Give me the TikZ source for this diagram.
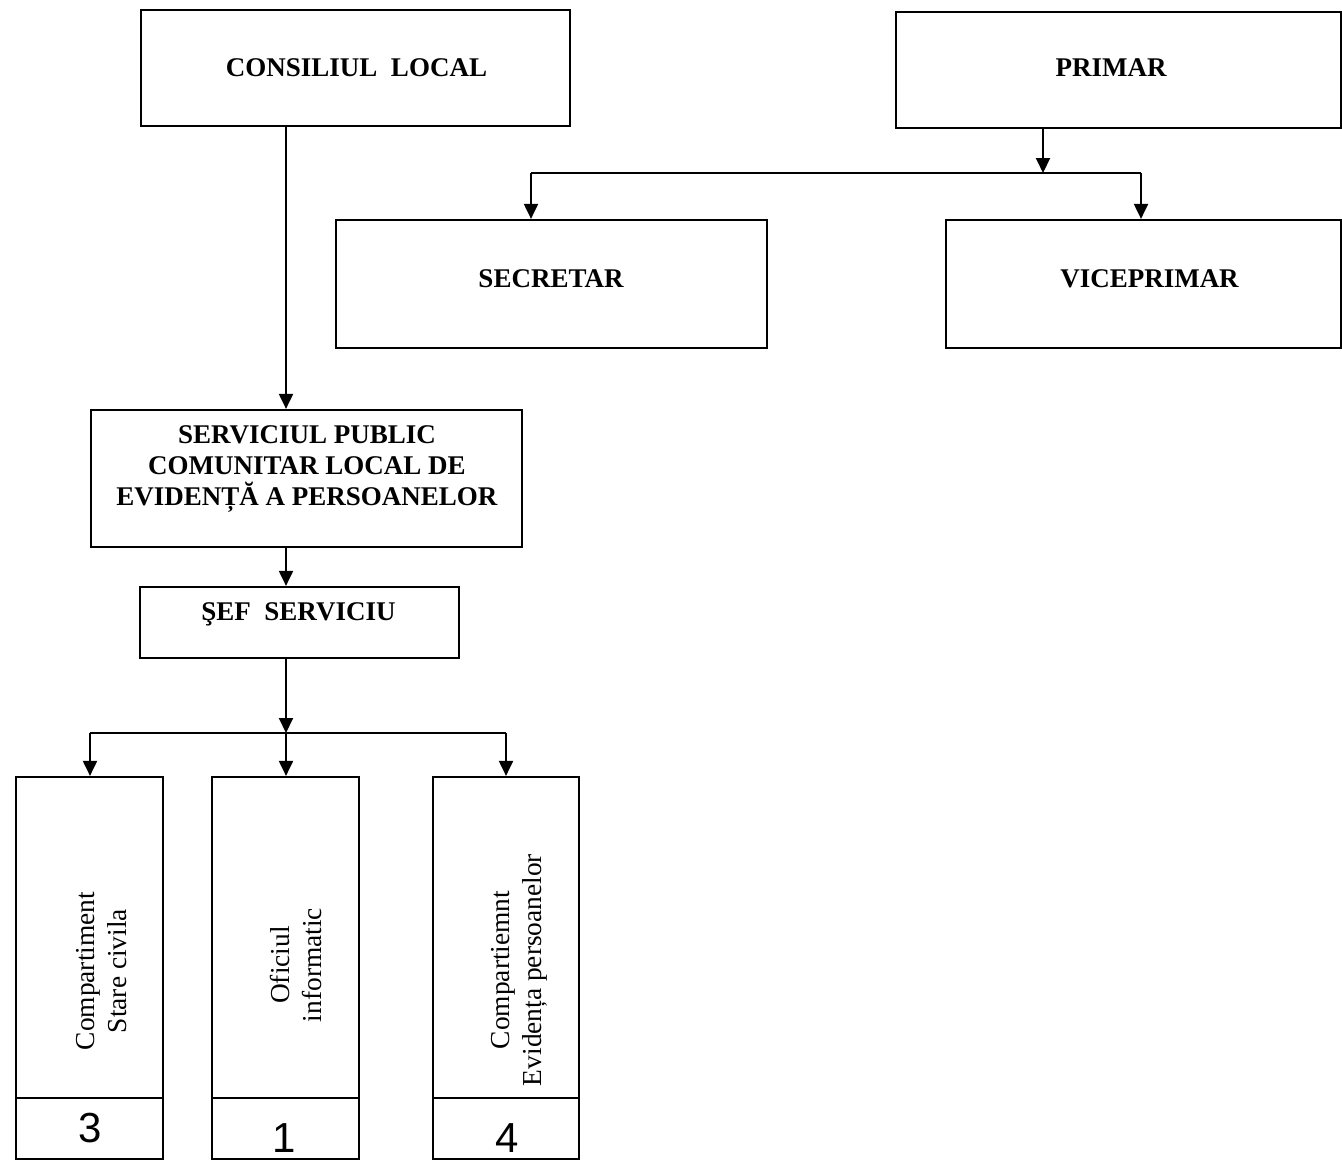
\documentclass[tikz,border=0pt]{standalone}
\usepackage{fontspec}
\setmainfont{Liberation Serif}
\newfontfamily\handfont{Liberation Sans}
\usetikzlibrary{arrows.meta}
\tikzset{
  box/.style={draw, line width=1.1pt, inner sep=0pt, rectangle},
  head/.style={font=\fontsize{13.5}{15.5}\selectfont\bfseries, align=center, inner sep=0pt},
  vtext/.style={font=\fontsize{13.7}{16}\selectfont, align=center, inner sep=0pt, rotate=90},
  numtext/.style={font=\handfont\fontsize{21}{21}\selectfont, inner sep=0pt},
  conn/.style={line width=1pt},
  arr/.style={conn, -{Triangle[width=7pt,length=7.5pt]}}
}
\begin{document}
\begin{tikzpicture}[x=0.5pt,y=-0.5pt]
\useasboundingbox (0,0) rectangle (1342,1161);
% boxes
\node[box, minimum width=214.5pt, minimum height=58pt] (cons) at (355.5,68) {};
\node[box, minimum width=222.5pt, minimum height=58pt] (primar) at (1118.5,70) {};
\node[box, minimum width=215.5pt, minimum height=64pt] (secr) at (551.5,284) {};
\node[box, minimum width=197.5pt, minimum height=64pt] (vice) at (1143.5,284) {};
\node[box, minimum width=215.5pt, minimum height=68.5pt] (serv) at (306.5,478.5) {};
\node[box, minimum width=159.5pt, minimum height=35.5pt] (sef) at (299.5,622.5) {};
\node[box, minimum width=73.5pt, minimum height=191pt] (c1) at (89.5,968) {};
\node[box, minimum width=73.5pt, minimum height=191pt] (c2) at (285.5,968) {};
\node[box, minimum width=73pt, minimum height=191pt] (c3) at (506,968) {};
% dividers
\coordinate (d1) at (16,1098);
\coordinate (d2) at (212,1098);
\coordinate (d3) at (433,1098);
\draw[line width=1.3pt] (d1) -- (d1 -| c1.east);
\draw[line width=1.3pt] (d2) -- (d2 -| c2.east);
\draw[line width=1.3pt] (d3) -- (d3 -| c3.east);
% labels
\node[head] (tcons) at (356.5,68) {CONSILIUL\ \ LOCAL};
\node[head] (tprimar) at (1111,68) {PRIMAR};
\node[head] (tsecr) at (551,279) {SECRETAR};
\node[head] (tvice) at (1149.5,279) {VICEPRIMAR};
\node[head] (tserv) at (307,469) {SERVICIUL PUBLIC\\COMUNITAR LOCAL DE\\EVIDENȚĂ A PERSOANELOR};
\node[head] (tsef) at (298.5,614) {ŞEF\ \ SERVICIU};
\node[vtext] (tc1) at (102,971) {Compartiment\\Stare civila};
\node[vtext] (tc2) at (296,965) {Oficiul\\informatic};
\node[vtext] (tc3) at (519,970) {Compartiemnt\\Evidența persoanelor};
\node[numtext] (n1) at (90,1128) {3};
\node[numtext] (n2) at (284,1138) {1};
\node[numtext] (n3) at (507,1138) {4};
% connectors
\coordinate (xa) at (286,0);
\draw[arr] (cons.south -| xa) -- (serv.north -| xa);
\draw[arr] (serv.south -| xa) -- (sef.north -| xa);
\coordinate (j1) at (286,733);
\draw[arr] (sef.south -| xa) -- (j1);
\coordinate (jl) at (90,733);
\coordinate (jr) at (506,733);
\draw[conn] (jl) -- (jr);
\draw[arr] (jl) -- (c1.north -| jl);
\draw[arr] (j1) -- (c2.north -| j1);
\draw[arr] (jr) -- (c3.north -| jr);
\coordinate (xp) at (1043,0);
\coordinate (j2) at (1043,173);
\draw[arr] (primar.south -| xp) -- (j2);
\coordinate (pl) at (531,173);
\coordinate (pr) at (1141,173);
\draw[conn] (pl) -- (pr);
\draw[arr] (pl) -- (secr.north -| pl);
\draw[arr] (pr) -- (vice.north -| pr);
\end{tikzpicture}
\end{document}
